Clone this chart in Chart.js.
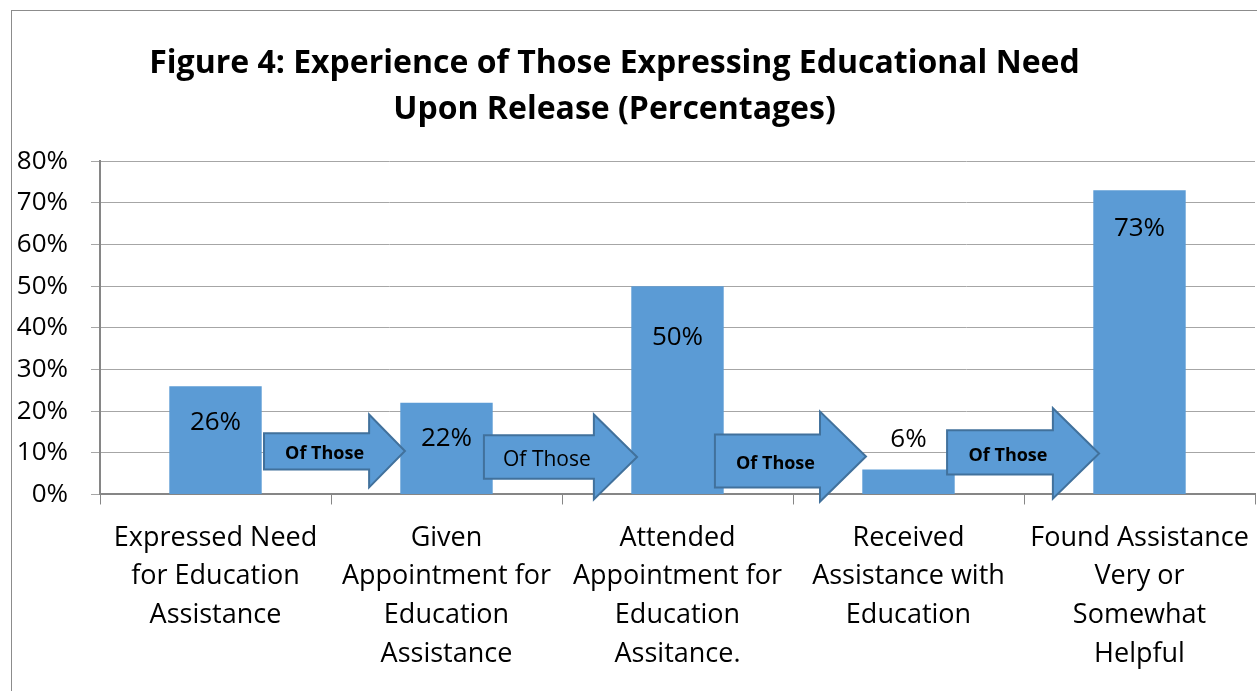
<!DOCTYPE html>
<html>
<head>
<meta charset="utf-8">
<script src="https://cdn.jsdelivr.net/npm/chart.js@4.4.1/dist/chart.umd.min.js"></script>
<style>
  body { margin: 0; background: #fff; overflow: hidden; }
  #wrap { position: relative; width: 1257px; height: 691px; }
  #frame {
    position: absolute; left: 11px; top: 10px; width: 1300px; height: 800px;
    border: 1px solid #8c8c8c; box-sizing: border-box; pointer-events: none;
  }
  canvas { position: absolute; left: 0; top: 0; }
</style>
</head>
<body>
<div id="wrap">
  <div id="frame"></div>
  <canvas id="grafico" width="1257" height="691"></canvas>
</div>
<script>
// categorias y valores (porcentajes)
const etapas = [
  ['Expressed Need', 'for Education', 'Assistance'],
  ['Given', 'Appointment for', 'Education', 'Assistance'],
  ['Attended', 'Appointment for', 'Education', 'Assitance.'],
  ['Received', 'Assistance with', 'Education'],
  ['Found Assistance', 'Very or', 'Somewhat', 'Helpful']
];
const porcentajes = [26, 22, 50, 6, 73];
const ticksY = [0, 10, 20, 30, 40, 50, 60, 70, 80];

const fuente = '"Open Sans", Lato, sans-serif';
const azul = '#5b9bd5';

// desplazamiento vertical de cada etiqueta respecto al tope de la barra
const etiquetaDy = [36, 36, 51, -30, 38];

// flechas "Of Those" entre barras (x en indice de categoria, y en %)
const flechas = [
  { x0: 0.21, xh: 0.665, x1: 0.82, bTop: 14.7, bBot: 6.0, hTop: 19.2, hBot: 1.7, bold: true, size: 18 },
  { x0: 1.162, xh: 1.638, x1: 1.825, bTop: 14.2, bBot: 3.8, hTop: 19.2, hBot: -1.2, bold: false, size: 21 },
  { x0: 2.162, xh: 2.617, x1: 2.816, bTop: 14.4, bBot: 1.7, hTop: 19.9, hBot: -1.7, bold: true, size: 18 },
  { x0: 3.167, xh: 3.625, x1: 3.825, bTop: 15.4, bBot: 4.8, hTop: 20.7, hBot: -1.0, bold: true, size: 18 }
];

const pluginFlechas = {
  id: 'flechas',
  afterLayout(chart) {
    // el titulo va un poco a la izquierda del centro del lienzo
    if (chart.titleBlock) {
      chart.titleBlock.left -= 20;
      chart.titleBlock.right -= 20;
    }
  },
  afterDraw(chart) {
    const ctx = chart.ctx;
    const x = chart.scales.x, y = chart.scales.y;
    ctx.save();
    flechas.forEach(f => {
      const px0 = x.getPixelForValue(f.x0), pxh = x.getPixelForValue(f.xh), px1 = x.getPixelForValue(f.x1);
      const bt = y.getPixelForValue(f.bTop), bb = y.getPixelForValue(f.bBot);
      const ht = y.getPixelForValue(f.hTop), hb = y.getPixelForValue(f.hBot);
      const tipY = (ht + hb) / 2;
      ctx.beginPath();
      ctx.moveTo(px0, bt);
      ctx.lineTo(pxh, bt);
      ctx.lineTo(pxh, ht);
      ctx.lineTo(px1, tipY);
      ctx.lineTo(pxh, hb);
      ctx.lineTo(pxh, bb);
      ctx.lineTo(px0, bb);
      ctx.closePath();
      ctx.fillStyle = azul;
      ctx.fill();
      ctx.lineWidth = 2;
      ctx.strokeStyle = '#41719c';
      ctx.stroke();

      ctx.fillStyle = '#000';
      ctx.font = (f.bold ? 'bold ' : '') + f.size + 'px ' + fuente;
      ctx.textAlign = 'center';
      ctx.textBaseline = 'middle';
      ctx.fillText('Of Those', (px0 + pxh) / 2 + 8, (bt + bb) / 2 + 3);
    });

    // etiquetas de valor
    const meta = chart.getDatasetMeta(0);
    ctx.font = '26px ' + fuente;
    ctx.fillStyle = '#000';
    meta.data.forEach((barra, i) => {
      ctx.fillText(porcentajes[i] + '%', barra.x, barra.y + etiquetaDy[i]);
    });
    ctx.restore();
  }
};

new Chart(document.getElementById('grafico'), {
  type: 'bar',
  data: {
    labels: etapas,
    datasets: [{
      data: porcentajes,
      backgroundColor: azul,
      borderWidth: 0,
      categoryPercentage: 0.4,
      barPercentage: 1
    }]
  },
  options: {
    responsive: false,
    devicePixelRatio: 1,
    animation: false,
    layout: { padding: { left: 14, right: 2, top: 10, bottom: 3 } },
    plugins: {
      legend: { display: false },
      tooltip: { enabled: false },
      title: {
        display: true,
        text: ['Figure 4: Experience of Those Expressing Educational Need', 'Upon Release (Percentages)'],
        color: '#000',
        font: { family: fuente, size: 32, weight: 'bold', lineHeight: 1.44 },
        padding: { top: 31, bottom: 28 }
      }
    },
    scales: {
      x: {
        grid: { drawOnChartArea: false, tickLength: 10, color: '#868686', offset: true },
        border: { color: '#868686', width: 2 },
        afterFit: s => { s.paddingLeft = 0; s.paddingRight = 0; },
        ticks: {
          color: '#000', maxRotation: 0, autoSkip: false, padding: 14,
          font: { family: fuente, size: 27, lineHeight: 1.44 }
        }
      },
      y: {
        min: 0,
        max: 80,
        afterBuildTicks: axis => { axis.ticks = ticksY.map(v => ({ value: v })); },
        afterFit: s => { s.width = 86; },
        grid: { color: '#a6a6a6', tickLength: 9 },
        border: { color: '#868686', width: 2 },
        ticks: {
          color: '#000', padding: 23,
          font: { family: fuente, size: 26 },
          callback: v => v + '%'
        }
      }
    }
  },
  plugins: [pluginFlechas]
});
</script>
</body>
</html>
